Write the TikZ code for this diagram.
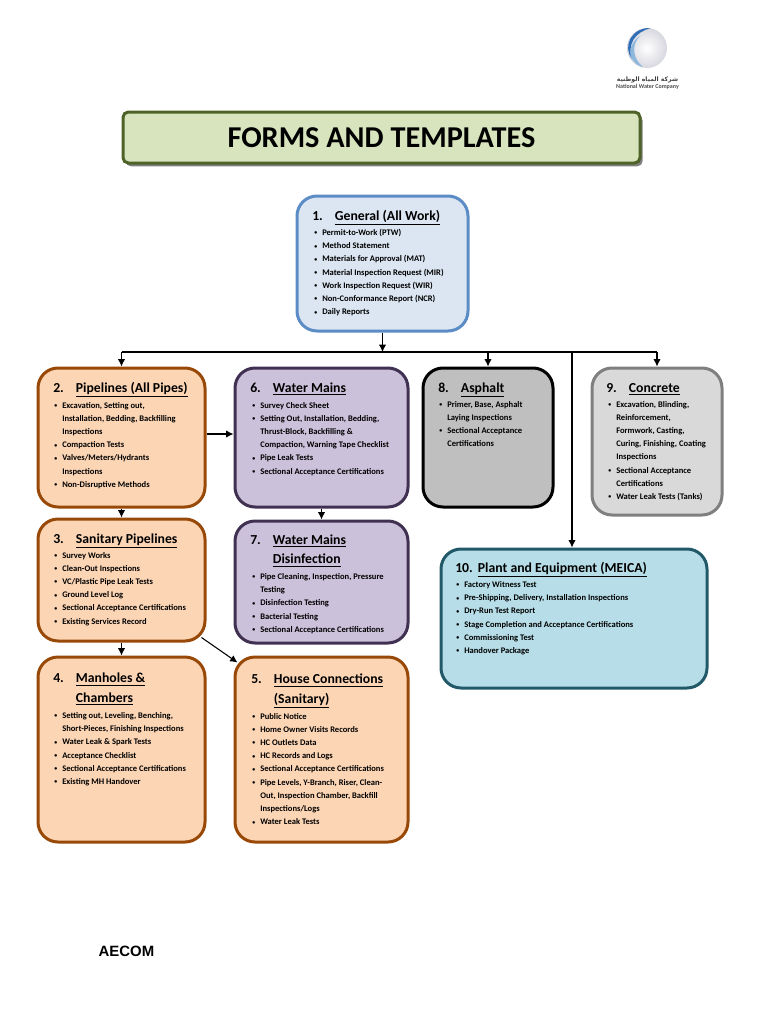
\documentclass[tikz,border=0pt]{standalone}
\usepackage{xcolor}
\usepackage{fontspec}
\setmainfont{Carlito}
\newfontfamily\arabicfont[Script=Arabic]{DejaVu Sans}
\newfontfamily\logofont{Liberation Sans}
\TeXXeTstate=1
\usetikzlibrary{arrows.meta, positioning, shadows}
\definecolor{titlefill}{HTML}{D7E4BD}
\definecolor{titleline}{HTML}{4F6228}
\definecolor{bluefill}{HTML}{DCE6F2}
\definecolor{blueline}{HTML}{5B8CC6}
\definecolor{orangefill}{HTML}{FCD5B5}
\definecolor{orangeline}{HTML}{984807}
\definecolor{purplefill}{HTML}{CCC1DA}
\definecolor{purpleline}{HTML}{403152}
\definecolor{greyfill}{HTML}{BFBFBF}
\definecolor{lightfill}{HTML}{D9D9D9}
\definecolor{lightline}{HTML}{7F7F7F}
\definecolor{tealfill}{HTML}{B7DEE8}
\definecolor{tealline}{HTML}{215968}
\definecolor{logoblue}{HTML}{2F6DB5}
\definecolor{logopale}{HTML}{8DB8DC}
\newcommand{\bul}[1]{\strut\makebox[6pt][l]{\raisebox{0.4pt}{\fontsize{4.4}{5}\selectfont\textbullet}}#1}
\newcommand{\cnt}[1]{\strut\hspace*{6pt}#1}
\newcommand{\hd}[2]{\strut\makebox[17pt][l]{#1}\underline{#2}}
\newcommand{\hdc}[1]{\strut\hspace*{17pt}\underline{#1}}
\begin{document}
\begin{tikzpicture}[
        x=0.75pt, y=-0.75pt,
        sz/.style 2 args={minimum width=#1*0.75pt, minimum height=#2*0.75pt},
        box/.style={rectangle, rounded corners=15pt, line width=2.25pt, inner sep=0pt},
        general/.style={box, draw=blueline, fill=bluefill},
        orange/.style={box, draw=orangeline, fill=orangefill},
        purple/.style={box, draw=purpleline, fill=purplefill},
        asphalt/.style={box, draw=black, fill=greyfill},
        concrete/.style={box, draw=lightline, fill=lightfill},
        teal/.style={box, draw=tealline, fill=tealfill},
        head/.style={anchor=north west, inner sep=0pt, align=left, font=\fontsize{10.3}{14.6}\selectfont\bfseries},
        list/.style={anchor=north west, inner sep=0pt, align=left, font=\fontsize{6.4}{9.9}\selectfont\bfseries},
        arrow/.style={-{Latex[length=5.5pt, width=5.5pt]}, line width=0.8pt},
        rule/.style={line width=0.8pt}
    ]
        \useasboundingbox (0,0) rectangle (768,1024);

        % logo
        \shade[inner color=white, outer color=blue!12!gray!28] (647,48) circle (20);
        \fill[logoblue] (651,28) .. controls (632,27) and (622,46) .. (632,59)
            .. controls (627,44) and (635,32) .. (651,28);
        \fill[logopale] (632,59) .. controls (635,64) and (639,66) .. (643,67)
            .. controls (634,60) and (630,46) .. (640,36) .. controls (631,42) and (628,52) .. (632,59);
        \node[inner sep=0pt] (logoArabic) at (647.5,80) {\fontsize{4.6}{6}\arabicfont\bfseries\color{black!75}\beginR شركة المياه الوطنية\endR};
        \node[inner sep=0pt] (logoName) at (647.5,86.5) {\fontsize{4.5}{5}\selectfont\bfseries\color{black!70}National Water Company};
        \node[inner sep=0pt] (aecom) at (126.5,951.5) {\fontsize{11.2}{12}\logofont\bfseries AECOM};

        % title
        \node[rectangle, rounded corners=4pt, line width=2.25pt, draw=titleline, fill=titlefill, sz={517}{51},
            drop shadow={shadow xshift=2pt, shadow yshift=-2.5pt, fill=black!50, opacity=1}] (title) at (381.5,137.5)
            {\raisebox{-2pt}{\fontsize{22.7}{24}\selectfont\bfseries FORMS AND TEMPLATES}};

        % boxes
        \node[general, sz={171}{135}] (generalBox) at (382.5,263.5) {};
        \node[orange, sz={167}{139}] (pipelines) at (121.5,437.5) {};
        \node[orange, sz={167}{122}] (sanitary) at (121.5,580) {};
        \node[orange, sz={167}{185}] (manholes) at (121.5,749.5) {};
        \node[orange, sz={173}{185}] (house) at (321.5,749.5) {};
        \node[purple, sz={173}{139}] (mains) at (321.5,437.5) {};
        \node[purple, sz={173}{122}] (disinfection) at (321.5,582) {};
        \node[asphalt, sz={130}{139}] (asphaltBox) at (488,437.5) {};
        \node[concrete, sz={130}{147}] (concreteBox) at (657,441.5) {};
        \node[teal, sz={266}{139}] (plant) at (574,618.5) {};

        % box texts
        \node[head] (generalHead) at (312,206.5) {\hd{1.}{General (All Work)}};
        \node[list] (generalList) at (314,226) {\bul{Permit-to-Work (PTW)}\\\bul{Method Statement}\\\bul{Materials for Approval (MAT)}\\\bul{Material Inspection Request (MIR)}\\\bul{Work Inspection Request (WIR)}\\\bul{Non-Conformance Report (NCR)}\\\bul{Daily Reports}};

        \node[head] (pipelinesHead) at (53,378.5) {\hd{2.}{Pipelines (All Pipes)}};
        \node[list] (pipelinesList) at (54,398.5) {\bul{Excavation, Setting out,}\\\cnt{Installation, Bedding, Backfilling}\\\cnt{Inspections}\\\bul{Compaction Tests}\\\bul{Valves/Meters/Hydrants}\\\cnt{Inspections}\\\bul{Non-Disruptive Methods}};

        \node[head] (sanitaryHead) at (53,529.5) {\hd{3.}{Sanitary Pipelines}};
        \node[list] (sanitaryList) at (54,548.5) {\bul{Survey Works}\\\bul{Clean-Out Inspections}\\\bul{VC/Plastic Pipe Leak Tests}\\\bul{Ground Level Log}\\\bul{Sectional Acceptance Certifications}\\\bul{Existing Services Record}};

        \node[head] (manholesHead) at (53,669) {\hd{4.}{Manholes \&}\\\hdc{Chambers}};
        \node[list] (manholesList) at (54,709) {\bul{Setting out, Leveling, Benching,}\\\cnt{Short-Pieces, Finishing Inspections}\\\bul{Water Leak \& Spark Tests}\\\bul{Acceptance Checklist}\\\bul{Sectional Acceptance Certifications}\\\bul{Existing MH Handover}};

        \node[head] (houseHead) at (251,670) {\hd{5.}{House Connections}\\\hdc{(Sanitary)}};
        \node[list] (houseList) at (252,709.5) {\bul{Public Notice}\\\bul{Home Owner Visits Records}\\\bul{HC Outlets Data}\\\bul{HC Records and Logs}\\\bul{Sectional Acceptance Certifications}\\\bul{Pipe Levels, Y-Branch, Riser, Clean-}\\\cnt{Out, Inspection Chamber, Backfill}\\\cnt{Inspections/Logs}\\\bul{Water Leak Tests}};

        \node[head] (mainsHead) at (250,378.5) {\hd{6.}{Water Mains}};
        \node[list] (mainsList) at (252,398.5) {\bul{Survey Check Sheet}\\\bul{Setting Out, Installation, Bedding,}\\\cnt{Thrust-Block, Backfilling \&}\\\cnt{Compaction, Warning Tape Checklist}\\\bul{Pipe Leak Tests}\\\bul{Sectional Acceptance Certifications}};

        \node[head] (disinfectionHead) at (250,530.5) {\hd{7.}{Water Mains}\\\hdc{Disinfection}};
        \node[list] (disinfectionList) at (252,570) {\bul{Pipe Cleaning, Inspection, Pressure}\\\cnt{Testing}\\\bul{Disinfection Testing}\\\bul{Bacterial Testing}\\\bul{Sectional Acceptance Certifications}};

        \node[head] (asphaltHead) at (438,378.5) {\hd{8.}{Asphalt}};
        \node[list] (asphaltList) at (439,397.5) {\bul{Primer, Base, Asphalt}\\\cnt{Laying Inspections}\\\bul{Sectional Acceptance}\\\cnt{Certifications}};

        \node[head] (concreteHead) at (606,378.5) {\hd{9.}{Concrete}};
        \node[list] (concreteList) at (608,397.5) {\bul{Excavation, Blinding,}\\\cnt{Reinforcement,}\\\cnt{Formwork, Casting,}\\\cnt{Curing, Finishing, Coating}\\\cnt{Inspections}\\\bul{Sectional Acceptance}\\\cnt{Certifications}\\\bul{Water Leak Tests (Tanks)}};

        \node[head] (plantHead) at (455,558.5) {\hd{10.}{Plant and Equipment (MEICA)}};
        \node[list] (plantList) at (456,578) {\bul{Factory Witness Test}\\\bul{Pre-Shipping, Delivery, Installation Inspections}\\\bul{Dry-Run Test Report}\\\bul{Stage Completion and Acceptance Certifications}\\\bul{Commissioning Test}\\\bul{Handover Package}};

        % connectors
        \coordinate (busMain) at (382.5,352);
        \coordinate (busPipes) at (121.5,352);
        \coordinate (busAsphalt) at (488,352);
        \coordinate (busPlant) at (572,352);
        \coordinate (busConcrete) at (657,352);
        \coordinate (sanitaryCorner) at ([shift={(-5,-5)}]sanitary.south east);
        \coordinate (houseCorner) at ([shift={(4,7)}]house.north west);

        \draw[rule] (busPipes) -- (busConcrete);
        \draw[arrow] (generalBox) -- (busMain);
        \draw[arrow] (busPipes) -- (pipelines);
        \draw[arrow] (busAsphalt) -- (asphaltBox);
        \draw[arrow] (busConcrete) -- (concreteBox);
        \draw[arrow] (busPlant) -- (busPlant |- plant.north);
        \draw[arrow] (pipelines.east |- 0,434) -- (mains.west |- 0,434);
        \draw[arrow] (pipelines) -- (sanitary);
        \draw[arrow] (sanitary) -- (manholes);
        \draw[arrow] (mains) -- (disinfection);
        \draw[arrow] (sanitaryCorner) -- (houseCorner);
    \end{tikzpicture}
\end{document}
